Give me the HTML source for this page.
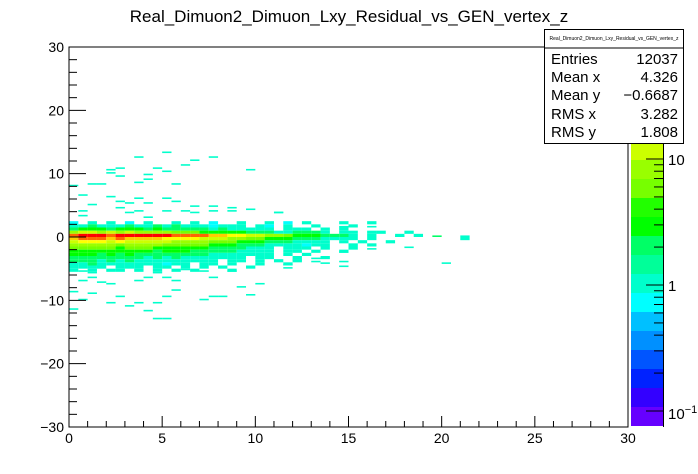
<!DOCTYPE html>
<html><head><meta charset="utf-8"><style>
html,body{margin:0;padding:0;background:#fff;}
svg{display:block;font-family:"Liberation Sans",sans-serif;}
</style></head><body>
<svg id="c" width="698" height="474" viewBox="0 0 698 474">
<rect x="0" y="0" width="698" height="474" fill="#fff"/>
<text x="349" y="22" font-size="17" text-anchor="middle">Real_Dimuon2_Dimuon_Lxy_Residual_vs_GEN_vertex_z</text>
<g id="cells"></g>
<g id="pal"></g>
<rect x="69" y="47" width="559" height="380" fill="none" stroke="#000" stroke-width="1"/>
<g id="axes"></g>
<g>
<rect x="544.5" y="29.5" width="139" height="114" fill="#fff" stroke="#000"/>
<line x1="544.5" y1="48" x2="683.5" y2="48" stroke="#000"/>
<text x="614" y="40" font-size="5" text-anchor="middle">Real_Dimuon2_Dimuon_Lxy_Residual_vs_GEN_vertex_z</text>
<g font-size="15">
<text x="551" y="64">Entries</text><text x="678" y="64" text-anchor="end">12037</text>
<text x="551" y="82">Mean x</text><text x="678" y="82" text-anchor="end">4.326</text>
<text x="551" y="100">Mean y</text><text x="678" y="100" text-anchor="end">−0.6687</text>
<text x="551" y="119">RMS x</text><text x="678" y="119" text-anchor="end">3.282</text>
<text x="551" y="137">RMS y</text><text x="678" y="137" text-anchor="end">1.808</text>
</g></g>
</svg>
<script>
const xTicks = [0, 5, 10, 15, 20, 25, 30];
const yTicks = [-30, -20, -10, 0, 10, 20, 30];
const coreTop = 2.5;
const coreRows = [
"0.1.1.0.1..1.1.0..1..1.0.1...1..1",
"1121112112121110111.10.1..1...1",
"2333233323222221211111.111.1.1",
"5665656555544433333222112221.11.11..1",
"9AAA9AAAAAA99998877665543332221.1..1.1",
"8999898888777766655443332221111.1.........1",
"6777676666655554443332221111.1.1..1",
"5555545555444443332221111011..1.1",
"4444434443333332222111.111.1..1",
"3333333332333222221111.11.1..1",
"3332323222222221111111.1.1",
"2222222212121111111.11..1..1",
"2221212111111111.11.1.1.1",
"1121111111011.11.1..1..1",
"1111.111.11.1.1.1..1",
"1.1.11.1.1.1.1...1"
];
const levelChars = ".0123456789A";
const levelValues = [0, 0.8, 1, 2, 3, 5, 8, 12, 18, 27, 40, 60];
const sparseX = [3.7,5.3,7.7,6.8,6.2,2.7,2.3,4.7,5.3,9.7,2.3,2.7,4.2,4.2,1.3,1.8,3.7,5.8,0.3,0.7,2.3,3.7,5.3,5.7,2.7,3.2,4.2,1.3,2.7,6.8,7.7,8.7,0.7,3.2,3.7,5.3,6.2,6.8,7.7,8.6,9.7,11.2,0.7,4.2,11.2,16.3,14.7,17.5,19.8,21,18.2,20.3,14.7,14.7,14.7,16.3,13.7,13.3,13.3,11.7,11.7,12.3,0.7,1.3,1.3,0.7,1.8,2.3,3.7,4.2,5.3,5.8,4.7,6.2,7.2,8.7,7.7,9.2,10.3,0.2,1.3,0.7,2.7,3.7,4.7,5.3,5.8,7.2,7.7,8.4,9.7,2.3,3.2,4.2,0.2,4.7,5.3];
const sparseY = [12.5,13.3,12.6,12.2,11.4,10.9,10.7,10.9,10.4,10.7,10,9.6,9.8,9.2,8.4,8.4,8.7,8.4,8.2,6.6,6.3,6.2,6,5.7,5.5,5.4,5.4,5.2,4.6,4.9,4.9,4.7,4.1,3.9,4.1,4.1,4.1,3.9,4.1,4.1,4.4,3.9,3.3,3.2,3.8,1.6,1.6,0,0.2,0,-1.6,-4.1,-2.4,-3.9,-4.7,-1.9,-4.2,-3.4,-3.9,-4.5,-4.9,-3.6,-5.5,-5.7,-6.3,-6.8,-7.1,-7.4,-6.8,-6.3,-6.5,-6.8,-5.7,-5.2,-5.5,-5.5,-6.3,-7.9,-7.4,-8.7,-8.9,-9.9,-9.5,-10.3,-10.4,-9.5,-8.4,-9.8,-9.3,-9.5,-9.2,-10.4,-10.9,-11.7,-11.4,-12.9,-12.8];
const sparseV = [1,1,1,1,1,1,1,1,1,1,1,1,1,1,1,1,1,1,1,1,1,1,1,1,1,1,1,1,1,1,1,1,1,1,1,1,1,1,1,1,1,1,1,1,1,1,1,1,2,1,1,1,1,1,1,1,1,1,1,1,1,1,1,1,1,1,1,1,1,1,1,1,1,1,1,1,1,1,1,1,1,1,1,1,1,1,1,1,1,1,1,1,1,1,1,1,1];
const palColors = ["#6600ff","#3300ff","#0022ff","#0055ff","#0090ff","#00c0ff","#00ffff","#00ffcc","#00ff99","#00ff66","#00ff00","#22ff00","#77ff00","#99ff00","#ccff00","#ffff00","#ffcc00","#ff9900","#ff6600","#ff0000"];

const NS = "http://www.w3.org/2000/svg";
const X0 = 69, X1 = 628, Y0 = 427, Y1 = 47;
function sx(v){ return X0 + (v - 0) / 30 * (X1 - X0); }
function sy(v){ return Y0 - (v + 30) / 60 * (Y0 - Y1); }
function sz(v){ return 285 - 126 * Math.log10(v); }
const palBottom = 426, bandH = 19;
function colorFor(v){
  let b = Math.floor((palBottom - sz(v)) / bandH);
  b = Math.max(0, Math.min(palColors.length - 1, b));
  return palColors[b];
}
function mk(tag, attrs, parent){
  const e = document.createElementNS(NS, tag);
  for (const k in attrs) e.setAttribute(k, attrs[k]);
  parent.appendChild(e);
  return e;
}
const cells = document.getElementById("cells");
const bw = 0.5;
coreRows.forEach((row, r) => {
  const yt = coreTop - r * 0.5;
  for (let i = 0; i < row.length; i++) {
    const v = levelValues[levelChars.indexOf(row[i])];
    if (!v) continue;
    const e = mk("rect", {x: sx(i*bw), y: sy(yt), width: sx((i+1)*bw) - sx(i*bw), height: sy(yt-0.5) - sy(yt), fill: colorFor(v)}, cells);
    
    
  }
});
sparseX.forEach((xv, i) => {
  const xb = Math.floor(xv / bw) * bw;
  const yb = Math.floor(sparseY[i] / 0.25) * 0.25 + 0.25;
  const e = mk("rect", {x: sx(xb), y: sy(yb), width: sx(xb+bw) - sx(xb), height: sy(yb-0.25) - sy(yb), fill: colorFor(sparseV[i])}, cells);
  
  
});
const pal = document.getElementById("pal");
palColors.forEach((c, i) => {
  const e = mk("rect", {x: 631, y: palBottom - (i+1)*bandH, width: 32, height: bandH, fill: c}, pal);
  
  
});
mk("line", {x1: 663.5, y1: 47, x2: 663.5, y2: 427, stroke: "#000"}, pal);
[0.1, 1, 10].forEach(d => {
  for (let m = 1; m <= 9; m++) {
    const v = d * m, y = sz(v);
    if (y < 47 || y > 427) continue;
    mk("line", {x1: 663, y1: y, x2: 663 - (m === 1 ? 17 : 9), y2: y, stroke: "#000"}, pal);
  }
});
const zl1 = mk("text", {x: 668, y: 165, "font-size": 15}, pal); zl1.textContent = "10";
 
const zl2 = mk("text", {x: 668, y: 291, "font-size": 15}, pal); zl2.textContent = "1";
 
const zl3 = mk("text", {x: 668, y: 419, "font-size": 15}, pal); zl3.innerHTML = "10<tspan dy='-6' font-size='11'>−1</tspan>";
 
const axes = document.getElementById("axes");
for (let v = 0; v <= 30; v += 1) {
  const major = v % 5 === 0;
  mk("line", {x1: sx(v), y1: 427, x2: sx(v), y2: 427 - (major ? 11 : 6), stroke: "#000"}, axes);
}
xTicks.forEach(v => {
  const t = mk("text", {x: sx(v), y: 443, "font-size": 14, "text-anchor": "middle"}, axes);
  t.textContent = String(v);
  
  
});
for (let v = -30; v <= 30; v += 2) {
  const major = v % 10 === 0;
  mk("line", {x1: 69, y1: sy(v), x2: 69 + (major ? 17 : 8), y2: sy(v), stroke: "#000"}, axes);
}
yTicks.forEach(v => {
  const t = mk("text", {x: 64, y: sy(v) + 5, "font-size": 14, "text-anchor": "end"}, axes);
  t.textContent = v < 0 ? "−" + Math.abs(v) : String(v);
  
  
});
</script>
</body></html>
